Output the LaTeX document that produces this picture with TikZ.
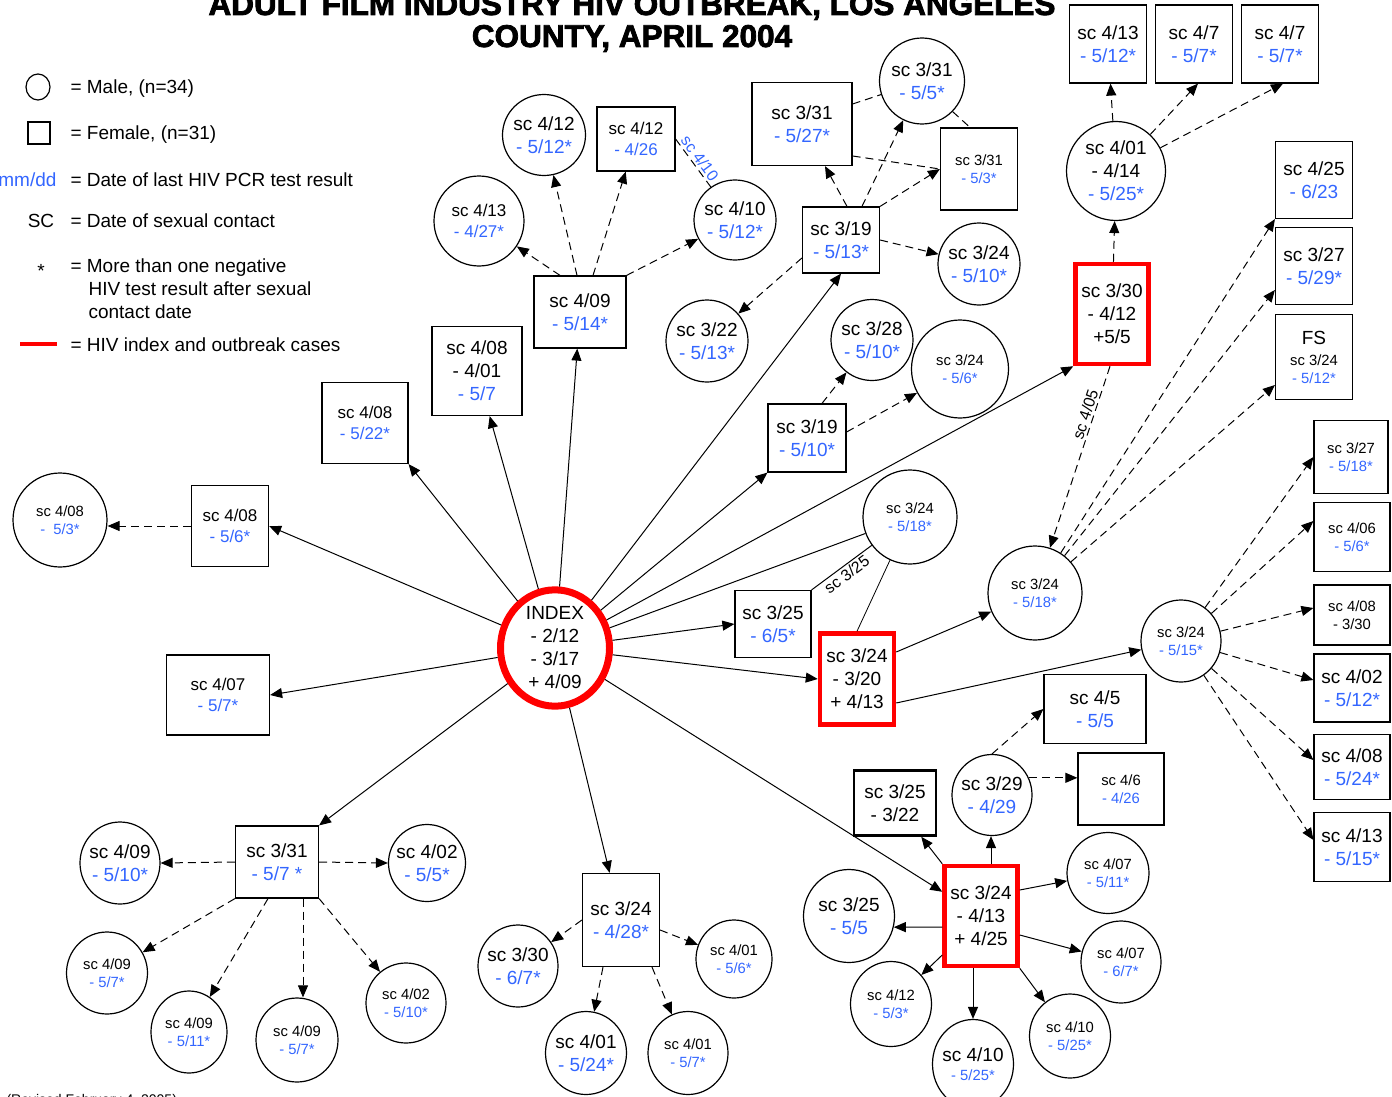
\documentclass[tikz,border=0pt]{standalone}
\usepackage{fontspec}
\setmainfont{Liberation Sans}
\newfontfamily\titlefont[FakeBold=2.5]{Liberation Sans Bold}
\usetikzlibrary{shapes.geometric,arrows.meta}
\definecolor{pcr}{RGB}{51,102,255}
\definecolor{hivred}{RGB}{255,0,0}
\newcommand{\pcr}[1]{\textcolor{pcr}{#1}}
\newcommand{\szL}{\fontsize{19}{23}\selectfont}
\newcommand{\szM}{\fontsize{17}{20.5}\selectfont}
\newcommand{\szS}{\fontsize{14.8}{18}\selectfont}
\tikzset{
  male/.style={ellipse, draw, line width=1.2pt, inner xsep=-8pt, inner ysep=0pt, align=center},
  female/.style={rectangle, draw, line width=1.2pt, inner sep=0pt, align=center},
  sz/.style 2 args={minimum width=#1pt, minimum height=#2pt},
  med/.style={font=\szM},
  sml/.style={font=\szS},
  case/.style={draw=hivred, line width=4.5pt},
  tx/.style={line width=1pt, -{Triangle[length=12pt,width=10pt]}},
  dtx/.style={tx, dash pattern=on 8pt off 5pt},
  lnk/.style={line width=1pt},
  dlnk/.style={lnk, dash pattern=on 8pt off 5pt},
  lbl/.style={font=\fontsize{16}{18}\selectfont, inner sep=2pt}
}
\begin{document}
\begin{tikzpicture}[ x=1pt, y=-1pt, font=\szL ]
  \useasboundingbox (0,0) rectangle (1392,1097);

  \node [ anchor=base, font=\titlefont\fontsize{31.5}{32}\selectfont ] (title1) at (632,15) {ADULT FILM INDUSTRY HIV OUTBREAK, LOS ANGELES};
  \node [ anchor=base, font=\titlefont\fontsize{31.5}{32}\selectfont ] (title2) at (632,47) {COUNTY, APRIL 2004};

  \node [ male, sz={24}{26} ] (keymale) at (38,87) {};
  \node [ female, sz={22}{22} ] (keyfemale) at (39,133) {};
  \node [ anchor=base west ] (txmale) at (67,94) {= Male, (n=34)};
  \node [ anchor=base west ] (txfemale) at (67,140) {= Female, (n=31)};
  \node [ anchor=base east, text=pcr ] (keypcr) at (60,186) {mm/dd};
  \node [ anchor=base west ] (txpcr) at (67,186) {= Date of last HIV PCR test result};
  \node [ anchor=base ] (keysc) at (41,227) {SC};
  \node [ anchor=base west ] (txsc) at (67,227) {= Date of sexual contact};
  \node [ anchor=base ] (keystar) at (41,277) {*};
  \node [ anchor=base west ] (txstar) at (67,272) {= More than one negative};
  \node [ anchor=base west ] (txstarb) at (85,295) {HIV test result after sexual};
  \node [ anchor=base west ] (txstarc) at (85,318) {contact date};
  \draw [ hivred, line width=4pt ] (20,344) -- (57,344);
  \node [ anchor=base west ] (txcase) at (67,351) {= HIV index and outbreak cases};
  \node [ anchor=base west, font=\fontsize{14}{16}\selectfont ] (revised) at (3,1104) {(Revised February 4, 2005)};

  \node [ male, sz={109}{109}, draw=hivred, line width=7pt ] (index) at (555,648) {INDEX\\- 2/12\\- 3/17\\+ 4/09};

  \node [ male, sml, sz={94}{94} ] (c408) at (60,520) {sc 4/08\\\pcr{- \ 5/3*}};
  \node [ female, med, sz={77}{81} ] (b408) at (230,526) {sc 4/08\\\pcr{- 5/6*}};
  \node [ female, med, sz={86}{81} ] (b408b) at (365,423) {sc 4/08\\\pcr{- 5/22*}};
  \node [ female, sz={90}{89} ] (b408c) at (477,371) {sc 4/08\\- 4/01\\\pcr{- 5/7}};
  \node [ female, sz={92}{72} ] (b409) at (580,312) {sc 4/09\\\pcr{- 5/14*}};
  \node [ male, med, sz={90}{90} ] (c413) at (479,221) {sc 4/13\\\pcr{- 4/27*}};
  \node [ male, sz={83}{81} ] (c412) at (544,135) {sc 4/12\\\pcr{- 5/12*}};
  \node [ female, med, sz={78}{64} ] (b412) at (636,139) {sc 4/12\\\pcr{- 4/26}};
  \node [ male, sz={82}{80} ] (c410) at (735,220) {sc 4/10\\\pcr{- 5/12*}};
  \node [ female, sz={100}{83} ] (b331a) at (802,124) {sc 3/31\\\pcr{- 5/27*}};
  \node [ male, sz={85}{86} ] (c331) at (922,81) {sc 3/31\\\pcr{- 5/5*}};
  \node [ female, sml, sz={77}{82} ] (b331b) at (979,169) {sc 3/31\\\pcr{- 5/3*}};
  \node [ female, sz={77}{66} ] (b319a) at (841,240) {sc 3/19\\\pcr{- 5/13*}};
  \node [ male, sz={82}{82} ] (c324d) at (979,264) {sc 3/24\\\pcr{- 5/10*}};
  \node [ male, sz={82}{82} ] (c322) at (707,341) {sc 3/22\\\pcr{- 5/13*}};
  \node [ male, sz={82}{81} ] (c328) at (872,340) {sc 3/28\\\pcr{- 5/10*}};
  \node [ male, sml, sz={97}{98} ] (c324e) at (960,369) {sc 3/24\\\pcr{- 5/6*}};
  \node [ female, sz={78}{68} ] (b319b) at (807,438) {sc 3/19\\\pcr{- 5/10*}};
  \node [ male, sml, sz={94}{94} ] (c324a) at (910,517) {sc 3/24\\\pcr{- 5/18*}};
  \node [ female, sz={76}{67} ] (b325) at (773,624) {sc 3/25\\\pcr{- 6/5*}};
  \node [ female, case, sz={74}{91} ] (b324c1) at (857,679) {sc 3/24\\- 3/20\\+ 4/13};
  \node [ female, case, sz={73}{100} ] (b330c) at (1112,314) {sc 3/30\\- 4/12\\+5/5};
  \node [ male, sz={99}{99} ] (c401) at (1116,171) {sc 4/01\\- 4/14\\\pcr{- 5/25*}};
  \node [ female, sz={77}{78} ] (b413t) at (1108,44) {sc 4/13\\\pcr{- 5/12*}};
  \node [ female, sz={77}{78} ] (b47a) at (1194,44) {sc 4/7\\\pcr{- 5/7*}};
  \node [ female, sz={77}{78} ] (b47b) at (1280,44) {sc 4/7\\\pcr{- 5/7*}};
  \node [ female, sz={77}{77} ] (b425) at (1314,180) {sc 4/25\\\pcr{- 6/23}};
  \node [ female, sz={77}{77} ] (b327a) at (1314,266) {sc 3/27\\\pcr{- 5/29*}};
  \node [ female, sz={77}{85} ] (bfs) at (1314,357) {FS\\[-2pt]{\szS sc 3/24}\\[-5pt]{\szS\pcr{- 5/12*}}};
  \node [ male, sml, sz={94}{94} ] (c324b) at (1035,593) {sc 3/24\\\pcr{- 5/18*}};
  \node [ male, sml, sz={80}{82} ] (c324c) at (1181,641) {sc 3/24\\\pcr{- 5/15*}};
  \node [ female, sml, sz={74}{73} ] (b327b) at (1351,457) {sc 3/27\\\pcr{- 5/18*}};
  \node [ female, sml, sz={76}{69} ] (b406) at (1352,537) {sc 4/06\\\pcr{- 5/6*}};
  \node [ female, sml, sz={76}{60} ] (b408r) at (1352,615) {sc 4/08\\- 3/30};
  \node [ female, sz={76}{68} ] (b402r) at (1352,688) {sc 4/02\\\pcr{- 5/12*}};
  \node [ female, sz={76}{65} ] (b408s) at (1352,767) {sc 4/08\\\pcr{- 5/24*}};
  \node [ female, sz={76}{69} ] (b413r) at (1352,847) {sc 4/13\\\pcr{- 5/15*}};
  \node [ female, med, sz={103}{80} ] (b407) at (218,695) {sc 4/07\\\pcr{- 5/7*}};
  \node [ female, sz={83}{72} ] (b331) at (277,862) {sc 3/31\\\pcr{- 5/7 *}};
  \node [ male, sz={80}{82} ] (c409a) at (120,863) {sc 4/09\\\pcr{- 5/10*}};
  \node [ male, sz={77}{77} ] (c402a) at (427,863) {sc 4/02\\\pcr{- 5/5*}};
  \node [ male, sml, sz={81}{82} ] (c409b) at (107,973) {sc 4/09\\\pcr{- 5/7*}};
  \node [ male, sml, sz={76}{82} ] (c409c) at (189,1032) {sc 4/09\\\pcr{- 5/11*}};
  \node [ male, sml, sz={82}{84} ] (c409d) at (297,1040) {sc 4/09\\\pcr{- 5/7*}};
  \node [ male, sml, sz={80}{80} ] (c402b) at (406,1003) {sc 4/02\\\pcr{- 5/10*}};
  \node [ female, sz={77}{93} ] (b324a) at (621,920) {sc 3/24\\\pcr{- 4/28*}};
  \node [ male, sz={80}{82} ] (c330) at (518,966) {sc 3/30\\\pcr{- 6/7*}};
  \node [ male, sz={81}{83} ] (c401b) at (586,1053) {sc 4/01\\\pcr{- 5/24*}};
  \node [ male, sml, sz={80}{83} ] (c401c) at (688,1053) {sc 4/01\\\pcr{- 5/7*}};
  \node [ male, sml, sz={76}{78} ] (c401d) at (734,959) {sc 4/01\\\pcr{- 5/6*}};
  \node [ female, case, sz={73}{100} ] (b324c2) at (981,916) {sc 3/24\\- 4/13\\+ 4/25};
  \node [ female, line width=2.5pt, sz={82}{65} ] (b3325) at (895,803) {sc 3/25\\- 3/22};
  \node [ male, sz={80}{81} ] (c329) at (992,795) {sc 3/29\\\pcr{- 4/29}};
  \node [ female, sz={102}{69} ] (b45) at (1095,709) {sc 4/5\\\pcr{- 5/5}};
  \node [ female, sml, sz={86}{72} ] (b46) at (1121,789) {sc 4/6\\\pcr{- 4/26}};
  \node [ male, sz={91}{93} ] (c325) at (849,916) {sc 3/25\\\pcr{- 5/5}};
  \node [ male, sml, sz={82}{81} ] (c407a) at (1108,873) {sc 4/07\\\pcr{- 5/11*}};
  \node [ male, sml, sz={80}{82} ] (c407b) at (1121,962) {sc 4/07\\\pcr{- 6/7*}};
  \node [ male, sml, sz={81}{85} ] (c412b) at (891,1004) {sc 4/12\\\pcr{- 5/3*}};
  \node [ male, sz={81}{89} ] (c410a) at (973,1064) {sc 4/10\\[-4pt]{\szS\pcr{- 5/25*}}};
  \node [ male, sml, sz={81}{84} ] (c410b) at (1070,1036) {sc 4/10\\\pcr{- 5/25*}};

  \draw [ tx ] (index) -- (b408.east);
  \draw [ tx ] (index) -- (b408b.south east);
  \draw [ tx ] (index) -- (b408c);
  \draw [ tx ] (index) -- (b409);
  \draw [ tx ] (index) -- (b319a.south);
  \draw [ tx ] (index) -- (b319b.south west);
  \draw [ tx ] (index) -- (b330c.south west);
  \draw [ lnk ] (index) -- (c324a);
  \draw [ tx ] (index) -- (b325.west);
  \draw [ tx ] (index) -- (b324c1.west);
  \draw [ tx ] (index) -- (b324c2);
  \draw [ tx ] (index) -- (b324a);
  \draw [ tx ] (index) -- (b331.north east);
  \draw [ tx ] (index) -- (b407.east);

  \draw [ dtx ] (b408.west) -- (b408.west -| c408.east);

  \draw [ dtx ] ([xshift=-20pt]b409.north) -- (c413);
  \draw [ dtx ] ([xshift=-3pt]b409.north) -- (c412);
  \draw [ dtx ] ([xshift=13pt]b409.north) -- (b412);
  \draw [ dtx ] (b409.north east) -- (c410);
  \draw [ dlnk ] (b412.east) -- (c410) node [ midway, sloped, above, lbl, text=pcr ] (lb410) {sc 4/10};

  \draw [ dtx ] ([xshift=6pt]b319a.north) -- (b331a);
  \draw [ dtx ] ([xshift=21pt]b319a.north) -- (c331);
  \draw [ dtx ] (b319a.north east) -- (b331b.west);
  \draw [ dtx ] (b319a.east) -- (c324d);
  \draw [ dtx ] ([yshift=-18pt]b319a.west) -- (c322);
  \draw [ dlnk ] ([yshift=20pt]b331a.east) -- (c331);
  \draw [ dlnk ] (c331.-45) -- ([xshift=-9pt]b331b.north);
  \draw [ dlnk ] ([yshift=-32pt]b331a.east) -- (b331b.west);

  \draw [ dtx ] ([xshift=15pt]b319b.north) -- (c328);
  \draw [ dtx ] ([yshift=6pt]b319b.east) -- (c324e);

  \draw [ lnk ] (b325.north east) -- (c324a) node [ midway, sloped, below, lbl ] (lb325) {sc 3/25};
  \draw [ lnk, line width=0.8pt ] (b324c1.north) -- (c324a);
  \draw [ tx ] ([yshift=27pt]b324c1.east) -- (c324b);
  \draw [ tx ] ([yshift=-24pt]b324c1.east) -- (c324c);

  \draw [ dtx ] (b330c) -- (c401);
  \draw [ dtx ] ([xshift=-2pt]b330c.south) -- (c324b) node [ pos=0.28, sloped, above, lbl ] (lb405) {sc 4/05};

  \draw [ dtx ] (c401) -- (b413t);
  \draw [ dtx ] (c401) -- ([xshift=4pt]b47a.south);
  \draw [ dtx ] (c401) -- ([xshift=3pt]b47b.south);

  \draw [ dtx ] (c324b) -- (b425.south west);
  \draw [ dtx ] (c324b) -- ([yshift=-24pt]b327a.west);
  \draw [ dtx ] (c324b) -- ([yshift=-28pt]bfs.west);

  \draw [ dtx ] (c324c) -- (b327b.west);
  \draw [ dtx ] (c324c) -- ([yshift=16pt]b406.west);
  \draw [ dtx ] (c324c) -- ([yshift=7pt]b408r.west);
  \draw [ dtx ] (c324c) -- ([yshift=8pt]b402r.west);
  \draw [ dtx ] (c324c) -- ([yshift=7pt]b408s.west);
  \draw [ dtx ] (c324c) -- ([yshift=7pt]b413r.west);

  \draw [ dtx ] (b331.west) -- (c409a.east);
  \draw [ dtx ] (b331.east) -- (c402a.west);
  \draw [ dtx ] (b331.south west) -- (c409b);
  \draw [ dtx ] ([xshift=-9pt]b331.south) -- (c409c);
  \draw [ dtx ] ([xshift=26pt]b331.south) -- ([xshift=26pt]b331.south |- c409d.north);
  \draw [ dtx ] (b331.south east) -- (c402b);

  \draw [ dtx ] (b324a.west) -- (c330);
  \draw [ dtx ] ([xshift=-18pt]b324a.south) -- (c401b);
  \draw [ dtx ] ([xshift=31pt]b324a.south) -- (c401c);
  \draw [ dtx ] ([yshift=-10pt]b324a.east) -- (c401d);

  \draw [ tx ] (b324c2.north west) -- (b3325);
  \draw [ tx ] ([xshift=10pt]b324c2.north) -- ([xshift=10pt]b324c2.north |- c329.south);
  \draw [ tx ] ([yshift=26pt]b324c2.east) -- (c407a);
  \draw [ tx ] ([yshift=-19pt]b324c2.east) -- (c407b);
  \draw [ tx ] (b324c2.south east) -- (c410b);
  \draw [ tx ] ([xshift=-8pt]b324c2.south) -- ([xshift=-8pt]b324c2.south |- c410a.north);
  \draw [ tx ] ([yshift=-39pt]b324c2.west) -- (c412b);
  \draw [ tx ] ([yshift=-11pt]b324c2.west) -- (c325.-14);

  \draw [ dtx ] (c329.north) -- (b45.west);
  \draw [ dtx ] (c329.25) -- (c329.25 -| b46.west);
\end{tikzpicture}
\end{document}
